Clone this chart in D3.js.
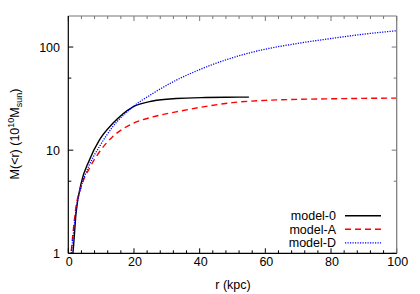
<!DOCTYPE html>
<html>
<head>
<meta charset="utf-8">
<script src="https://cdn.jsdelivr.net/npm/d3@7"></script>
<style>
  body { margin: 0; background: #fff; }
  svg { display: block; font-family: "Liberation Sans", Arial, sans-serif; }
</style>
</head>
<body>
<svg id="chart" width="420" height="294"></svg>
<script>
// values: radius (kpc) and enclosed mass (1e10 Msun)
const model0R = [1.4, 1.5, 2.35, 3.9, 6.4, 9.45, 13.5, 19.6, 25.7, 32.8, 41.9, 48, 55];
const model0M = [1.0, 1.08, 2.44, 4.76, 8.0, 12.5, 18.1, 26.2, 30.0, 31.7, 32.4, 32.6, 32.7];

const modelAR = [0.9, 1.13, 2.35, 3.87, 6.4, 9.45, 13.5, 19.6, 25.7, 32.8, 41.9, 50, 60, 70, 80, 90, 100];
const modelAM = [1.05, 1.25, 2.83, 4.4, 6.65, 9.6, 13.5, 18.1, 21.0, 23.5, 26.6, 28.9, 30.4, 31.1, 31.5, 31.8, 32.0];

const modelDR = [0.9, 1.13, 2.35, 3.9, 6.4, 9.45, 13.5, 19.6, 25.7, 32.8, 38.1, 48.2, 58.4, 70, 80, 88.8, 100];
const modelDM = [1.0, 1.16, 2.62, 4.4, 7.2, 10.8, 16.8, 26.2, 35.4, 47.6, 57, 75.5, 93, 108.6, 121, 132, 144];

const xMajor = [0, 20, 40, 60, 80, 100];
const xMinor = [4, 8, 12, 16, 24, 28, 32, 36, 44, 48, 52, 56, 64, 68, 72, 76, 84, 88, 92, 96];
const yMajor = [1, 10, 100];
const yMinor = [5, 50];

const seriesNames = ["model-0", "model-A", "model-D"];

const svg = d3.select("#chart");
const L = 68.3, R = 396.7, T = 16, B = 253.3;

const x = d3.scaleLinear().domain([0, 100]).range([L, R]);
const y = d3.scaleLog().domain([1, 200]).range([B, T]);

const plot = svg.append("g");
plot.append("clipPath").attr("id", "clip")
  .append("rect").attr("x", L).attr("y", T).attr("width", R - L).attr("height", B - T);

const styles = [
  { color: "#000000", dash: null, width: 1.4 },
  { color: "#ff0000", dash: "6,4", width: 1.4 },
  { color: "#0000ff", dash: "1.2,1.3", width: 1.3 }
];
const data = [
  model0R.map((r, i) => [r, model0M[i]]),
  modelAR.map((r, i) => [r, modelAM[i]]),
  modelDR.map((r, i) => [r, modelDM[i]])
];

const line = d3.line()
  .x(d => x(d[0]))
  .y(d => y(d[1]))
  .curve(d3.curveMonotoneX);

// ticks (inward, mirrored)
const tickG = svg.append("g").attr("stroke", "#000").attr("stroke-width", 1);
xMajor.forEach(v => {
  tickG.append("line").attr("x1", x(v)).attr("x2", x(v)).attr("y1", B).attr("y2", B - 5);
  tickG.append("line").attr("x1", x(v)).attr("x2", x(v)).attr("y1", T).attr("y2", T + 5).attr("stroke", "#777");
});
xMinor.forEach(v => {
  tickG.append("line").attr("x1", x(v)).attr("x2", x(v)).attr("y1", B).attr("y2", B - 3);
  tickG.append("line").attr("x1", x(v)).attr("x2", x(v)).attr("y1", T).attr("y2", T + 3).attr("stroke", "#777");
});
yMajor.forEach(v => {
  tickG.append("line").attr("x1", L).attr("x2", L + 5).attr("y1", y(v)).attr("y2", y(v));
  tickG.append("line").attr("x1", R).attr("x2", R - 5).attr("y1", y(v)).attr("y2", y(v)).attr("stroke", "#777");
});
yMinor.forEach(v => {
  tickG.append("line").attr("x1", L).attr("x2", L + 3).attr("y1", y(v)).attr("y2", y(v));
  tickG.append("line").attr("x1", R).attr("x2", R - 3).attr("y1", y(v)).attr("y2", y(v)).attr("stroke", "#777");
});

// curves
data.forEach((d, i) => {
  plot.append("path")
    .attr("clip-path", "url(#clip)")
    .attr("d", line(d))
    .attr("fill", "none")
    .attr("stroke", styles[i].color)
    .attr("stroke-width", styles[i].width)
    .attr("stroke-dasharray", styles[i].dash);
});

// frame
svg.append("line").attr("x1", L).attr("x2", R).attr("y1", T).attr("y2", T).attr("stroke", "#777").attr("stroke-width", 1.2);
svg.append("line").attr("x1", R).attr("x2", R).attr("y1", T).attr("y2", B).attr("stroke", "#777").attr("stroke-width", 1.2);
svg.append("line").attr("x1", L).attr("x2", L).attr("y1", T).attr("y2", B).attr("stroke", "#000").attr("stroke-width", 1.2);
svg.append("line").attr("x1", L).attr("x2", R).attr("y1", B).attr("y2", B).attr("stroke", "#000").attr("stroke-width", 1.2);

// tick labels
svg.append("g").selectAll("text").data(xMajor).join("text")
  .attr("x", d => x(d) + 1).attr("y", 266)
  .attr("text-anchor", "middle").attr("font-size", 12.5)
  .text(d => d);
svg.append("g").selectAll("text").data(yMajor).join("text")
  .attr("x", 60).attr("y", d => y(d) + 4.5)
  .attr("text-anchor", "end").attr("font-size", 12.5)
  .text(d => d);

// axis titles
svg.append("text").attr("x", 233).attr("y", 289)
  .attr("text-anchor", "middle").attr("font-size", 12.5).text("r (kpc)");

const yt = svg.append("text")
  .attr("transform", "translate(18.5,134) rotate(-90)")
  .attr("text-anchor", "middle").attr("font-size", 12.5);
yt.append("tspan").text("M(<r) (10");
yt.append("tspan").attr("font-size", 9).attr("dy", -5).text("10");
yt.append("tspan").attr("dy", 5).text("M");
yt.append("tspan").attr("font-size", 9).attr("dy", 3).text("sun");
yt.append("tspan").attr("dy", -3).text(")");

// legend
const legY = [215.8, 229.3, 242.8];
seriesNames.forEach((name, i) => {
  svg.append("text").attr("x", 336).attr("y", legY[i] + 4.3)
    .attr("text-anchor", "end").attr("font-size", 12.5).text(name);
  svg.append("line").attr("x1", 345).attr("x2", 381)
    .attr("y1", legY[i]).attr("y2", legY[i])
    .attr("stroke", styles[i].color)
    .attr("stroke-width", styles[i].width)
    .attr("stroke-dasharray", styles[i].dash);
});
</script>
</body>
</html>
